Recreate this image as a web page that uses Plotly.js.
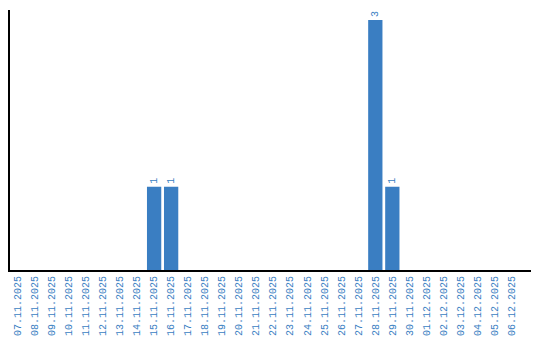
<!DOCTYPE html>
<html><head><meta charset="utf-8">
<script src="https://cdn.plot.ly/plotly-3.0.1.min.js"></script>
<style>html,body{margin:0;padding:0;background:#fff}#chart{width:540px;height:340px}</style>
</head><body><div id="chart"></div>
<script>
const dates = ["07.11.2025","08.11.2025","09.11.2025","10.11.2025","11.11.2025","12.11.2025","13.11.2025","14.11.2025","15.11.2025","16.11.2025","17.11.2025","18.11.2025","19.11.2025","20.11.2025","21.11.2025","22.11.2025","23.11.2025","24.11.2025","25.11.2025","26.11.2025","27.11.2025","28.11.2025","29.11.2025","30.11.2025","01.12.2025","02.12.2025","03.12.2025","04.12.2025","05.12.2025","06.12.2025"];
const counts = [0,0,0,0,0,0,0,0,1,1,0,0,0,0,0,0,0,0,0,0,0,3,1,0,0,0,0,0,0,0];
const labels = counts.map(v => v > 0 ? String(v) : "");
const blue = "#3a7ec2";
Plotly.newPlot("chart", [{
  type: "bar", x: dates, y: counts, text: labels,
  textposition: "outside", textangle: -90, cliponaxis: false,
  textfont: {family: "Liberation Mono", size: 10, color: blue},
  marker: {color: blue}, hoverinfo: "none"
}], {
  width: 540, height: 340,
  margin: {l: 10, r: 9, t: 10, b: 70},
  paper_bgcolor: "#fff", plot_bgcolor: "#fff",
  bargap: 0.16, showlegend: false,
  xaxis: {type: "category", range: [-0.47, 30.15], showline: true, linecolor: "#000", linewidth: 2, showgrid: false, zeroline: false,
    tickangle: -90, ticks: "", tickfont: {family: "Liberation Mono", size: 10, color: blue}},
  yaxis: {range: [0, 3.12], showline: true, linecolor: "#000", linewidth: 2, showgrid: false, zeroline: false,
    showticklabels: false, ticks: ""}
}, {staticPlot: true});
</script></body></html>
